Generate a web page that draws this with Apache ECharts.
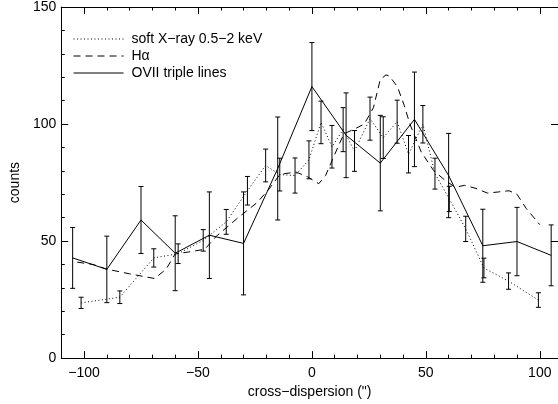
<!DOCTYPE html>
<html>
<head>
<meta charset="utf-8">
<script src="https://cdn.jsdelivr.net/npm/echarts@6/dist/echarts.min.js"></script>
<style>
  html, body { margin: 0; padding: 0; background: #fff; }
  #chart { width: 558px; height: 404px; }
</style>
</head>
<body>
<div id="chart"></div>
<script>
// soft X-ray profile (dotted, small error bars)
var softX = [-101.3, -84.3, -69.4, -58.7, -47.7, -37.6, -28.3, -20.3, -14.1, -7.4, -1.3, 4.0, 8.8, 13.7, 18.7, 25.5, 31.3, 37.4, 42.4, 48.7, 54, 60.3, 67.5, 75.5, 86.3, 99.4];
var softY = [23.6, 26, 42.8, 44.6, 50.3, 58.2, 71.5, 82.3, 78.4, 78, 84.7, 100.7, 90.3, 97.6, 88.5, 102.3, 94.2, 101, 87.1, 99.9, 78.8, 68, 55.2, 38.5, 32.9, 24.8];
var softErr = [2.4, 2.7, 3.9, 4.2, 4.6, 5.3, 6.1, 7, 7, 7.5, 8.1, 9.1, 9.1, 9.4, 8.7, 9.2, 8.9, 9.2, 8, 8, 6.6, 5.4, 5.4, 4.2, 3.5, 3.1];

// H-alpha profile (dashed, no errors)
var haX = [-103, -96, -90, -80, -69, -64, -60, -53, -47, -42, -33, -24, -19, -14, -7, -2, 3, 6, 10, 14, 19, 23, 27, 30, 32.5, 34, 37.5, 40.5, 43, 48, 53.5, 59, 63, 67, 72, 77, 82, 86.5, 90, 94, 100];
var haY = [41, 40, 38, 36, 34, 38, 44.5, 45.5, 46.5, 52, 59.5, 66.5, 72, 78.5, 79.5, 77.5, 74.5, 78, 87, 95.8, 98, 100, 107, 119, 121, 120.5, 116, 108, 100, 88, 80, 75.5, 73, 73.8, 72.5, 70.5, 71, 71.5, 70, 64, 57];

// OVII triple lines (solid, large error bars)
var oviiX = [-105, -90, -75, -60, -45, -30, -15, 0, 15, 30, 45, 60, 75, 90, 105];
var oviiY = [42.8, 37.9, 59, 44.8, 52.5, 49, 81, 116, 95.2, 83.3, 102, 78, 48, 49.8, 43.9];
var oviiErr = [13, 14.2, 14.3, 16, 18.5, 22, 22, 18.8, 18.1, 20.4, 20.2, 18, 15.6, 14.6, 13];

var majorX = [-100, -50, 0, 50, 100];
var names = ["soft X\u2212ray 0.5\u22122 keV", "H\u03b1", "OVII triple lines"];

var font = "Liberation Sans";

function zip(xs, ys) {
  return xs.map(function (x, i) { return [x, ys[i]]; });
}
function zip3(xs, ys, es) {
  return xs.map(function (x, i) { return [x, ys[i], es[i]]; });
}

// vertical error bar with small caps
function errRender(params, api) {
  var x = api.value(0), y = api.value(1), e = api.value(2);
  var top = api.coord([x, y + e]);
  var bot = api.coord([x, y - e]);
  var w = 2.5;
  var st = { stroke: "#000", lineWidth: 1 };
  return {
    type: "group",
    children: [
      { type: "line", shape: { x1: top[0], y1: top[1], x2: bot[0], y2: bot[1] }, style: st },
      { type: "line", shape: { x1: top[0] - w, y1: top[1], x2: top[0] + w, y2: top[1] }, style: st },
      { type: "line", shape: { x1: bot[0] - w, y1: bot[1], x2: bot[0] + w, y2: bot[1] }, style: st },
    ],
  };
}

function xAx(pos, major, labels) {
  return {
    type: "value",
    position: pos,
    min: -110,
    max: 108,
    interval: 10,
    gridIndex: 0,
    axisLine: { show: !major, onZero: false, lineStyle: { color: "#000", width: 1 } },
    axisTick: major
      ? { show: true, inside: true, length: 7, customValues: majorX, lineStyle: { color: "#000" } }
      : { show: true, inside: true, length: 3.5, lineStyle: { color: "#000" } },
    axisLabel: labels
      ? {
          show: true,
          customValues: majorX,
          margin: 8,
          color: "#000",
          fontFamily: font,
          fontSize: 14,
          formatter: function (v) { return String(v).replace("-", "\u2212"); },
        }
      : { show: false },
    splitLine: { show: false },
  };
}

function yAx(pos, labels) {
  return {
    type: "value",
    position: pos,
    min: 0,
    max: 150,
    interval: 50,
    axisLine: { show: true, onZero: false, lineStyle: { color: "#000", width: 1 } },
    axisTick: { show: true, inside: true, length: 7, lineStyle: { color: "#000" } },
    minorTick: { show: labels, splitNumber: 5, length: 3.5, lineStyle: { color: "#000" } },
    axisLabel: labels
      ? { show: true, margin: 5, color: "#000", fontFamily: font, fontSize: 14 }
      : { show: false },
    splitLine: { show: false },
  };
}

var myChart = echarts.init(document.getElementById("chart"), null, { renderer: "canvas" });

var xBottom = xAx("bottom", false, true);
xBottom.name = "cross\u2212dispersion (\")";
xBottom.nameLocation = "middle";
xBottom.nameGap = 24;
xBottom.nameTextStyle = { color: "#000", fontFamily: font, fontSize: 14 };

var yLeft = yAx("left", true);
yLeft.name = "counts";
yLeft.nameLocation = "middle";
yLeft.nameGap = 36;
yLeft.nameTextStyle = { color: "#000", fontFamily: font, fontSize: 14 };

var option = {
  backgroundColor: "#fff",
  animation: false,
  grid: { left: 57, top: 7, width: 502, height: 359 },
  legend: {
    orient: "vertical",
    left: 68,
    top: 27,
    itemWidth: 50,
    itemHeight: 14,
    itemGap: 3,
    data: names,
    itemStyle: { opacity: 0, borderWidth: 0 },
    lineStyle: { width: 1 },
    textStyle: { color: "#000", fontFamily: font, fontSize: 14, padding: [0, 0, 0, 3] },
  },
  xAxis: [xBottom, xAx("bottom", true, false), xAx("top", false, false), xAx("top", true, false)],
  yAxis: [yLeft, yAx("right", false)],
  series: [
    {
      name: names[0],
      type: "line",
      symbol: "none",
      data: zip(softX, softY),
      lineStyle: { color: "#000", width: 1, type: [1, 2.5] },
      itemStyle: { color: "#000" },
    },
    {
      name: names[1],
      type: "line",
      symbol: "none",
      data: zip(haX, haY),
      lineStyle: { color: "#000", width: 1, type: [7, 5] },
      itemStyle: { color: "#000" },
    },
    {
      name: names[2],
      type: "line",
      symbol: "none",
      data: zip(oviiX, oviiY),
      lineStyle: { color: "#000", width: 1 },
      itemStyle: { color: "#000" },
    },
    {
      name: "softErr",
      type: "custom",
      renderItem: errRender,
      data: zip3(softX, softY, softErr),
      encode: { x: 0, y: [1] },
      silent: true,
    },
    {
      name: "oviiErr",
      type: "custom",
      renderItem: errRender,
      data: zip3(oviiX, oviiY, oviiErr),
      encode: { x: 0, y: [1] },
      silent: true,
    },
  ],
};
myChart.setOption(option);
</script>
</body>
</html>
